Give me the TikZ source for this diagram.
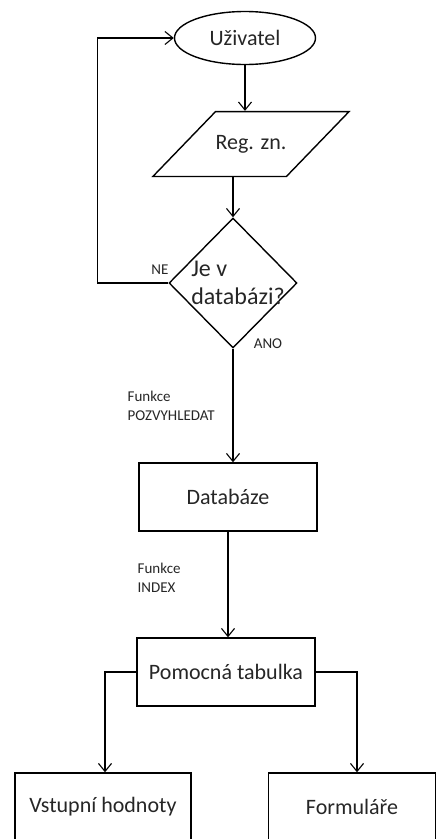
\documentclass[tikz,border=0pt]{standalone}
\usepackage{fontspec}
\setmainfont{Carlito}
\usetikzlibrary{shapes, arrows.meta, calc}

\begin{document}
\begin{tikzpicture}[
    x = 1pt, y = -1pt,
    line width = 1.4pt,
    >= {Straight Barb[length = 8pt, width = 13pt, line width = 1.1pt]},
    every node/.style = {text = black!85},
    box/.style = {rectangle,
      draw,
      minimum height = 68pt,
      font = \fontsize{22}{26}\selectfont},
    terminal/.style = {ellipse,
      draw,
      minimum width = 141pt,
      minimum height = 53pt,
      font = \fontsize{22}{26}\selectfont},
    input/.style = {trapezium,
      trapezium left angle = 46,
      trapezium right angle = 134,
      draw,
      inner xsep = 0pt,
      inner ysep = 23.5pt,
      font = \fontsize{22}{26}\selectfont},
    decision/.style = {diamond,
      draw,
      aspect = 1,
      inner sep = 0pt,
      minimum width = 128pt,
      minimum height = 130pt},
    note/.style = {align = left,
      inner sep = 0pt,
      font = \fontsize{15}{19}\selectfont}
    ]
    \useasboundingbox (0, 0) rectangle (436, 839);
    \clip (0, 0) rectangle (436, 839);

    \node at (245, 38) [terminal, name = U] {Uživatel};
    \node at (251, 144) [input, name = R] {Reg. zn.};
    \node at (233, 283) [decision, name = Q] {};
    \node at (238, 283) [align = left, inner sep = 0pt,
      font = \fontsize{24}{28}\selectfont, name = Qtext] {Je v\\databázi?};
    \node at (228, 497) [box, minimum width = 178pt, name = D] {Databáze};
    \node at (226, 672) [box, minimum width = 178pt, name = P] {Pomocná tabulka};
    \node at (103, 807) [box, minimum width = 176pt, name = V] {Vstupní hodnoty};
    \node at (352, 807) [box, minimum width = 167pt, name = F] {Formuláře};

    \node at (160, 270) [note, name = ne] {NE};
    \node at (268, 344) [note, name = ano] {ANO};
    \node at (127, 406) [note, anchor = west, name = fvyhl] {Funkce\\POZVYHLEDAT};
    \node at (137, 578) [note, anchor = west, name = findex] {Funkce\\INDEX};

    \draw [->] (U) -- (U |- R.north);
    \draw [->] (R.south -| Q.north) -- (Q.north);
    \draw [->] (Q.west) -- ++(-71, 0) |- (U.west);
    \draw [->] (Q.south) -- (Q.south |- D.north);
    \draw [->] (D.south) -- (D.south |- P.north);
    \draw [->] (P.west) -| ([xshift = 2pt] V.north);
    \draw [->] (P.east) -| ([xshift = 5pt] F.north);

  \end{tikzpicture}
\end{document}
